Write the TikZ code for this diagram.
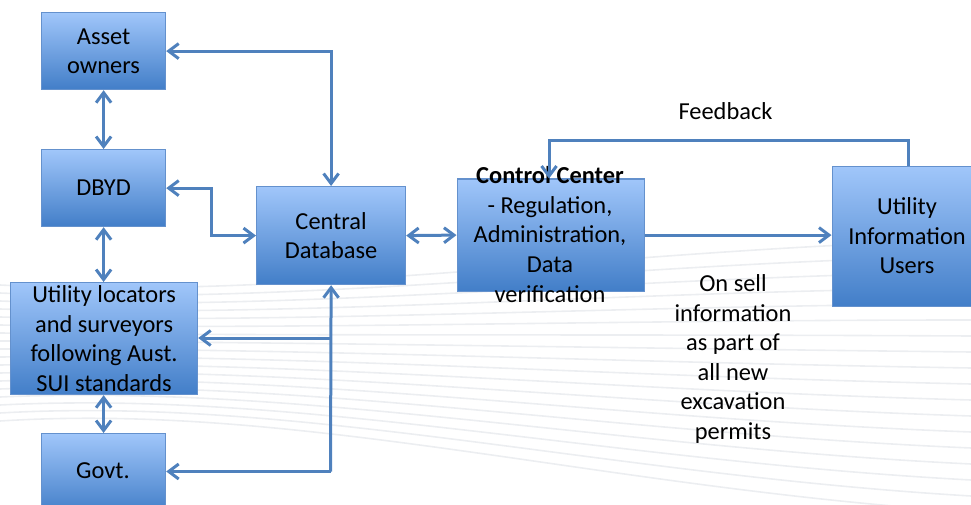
\documentclass[tikz,border=0pt]{standalone}
\usepackage{fontspec}
\setmainfont{Carlito}
\usetikzlibrary{arrows.meta}
\definecolor{boxtop}{RGB}{160,198,250}
\definecolor{boxbot}{RGB}{66,126,200}
\definecolor{boxline}{RGB}{100,145,205}
\definecolor{arr}{RGB}{79,129,189}
\definecolor{wave}{RGB}{236,238,241}
\begin{document}
\begin{tikzpicture}[x=1pt,y=-1pt,
  blk/.style={draw=boxline, line width=1.2pt, top color=boxtop, bottom color=boxbot,
    inner sep=0pt, anchor=north west},
  txt/.style={font=\fontsize{24.4}{29.6}\selectfont, align=center, inner sep=0pt, text=black},
  tipb/.tip={Straight Barb[length=10pt,width=15pt,line width=3pt]},
  bi/.style={draw=arr, line width=3pt, tipb-tipb},
  one/.style={draw=arr, line width=3pt, -tipb},
  plain/.style={draw=arr, line width=3pt}]
\useasboundingbox (0,0) rectangle (971,505);
% faint background waves
\foreach \k in {0,...,17}{
  \draw[wave, line width=1.6pt] (0,{285+8*\k}) .. controls (300,{300+6*\k}) and (600,{250+14*\k}) .. (971,{240+16*\k});
}
% boxes
\node[blk, minimum width=124pt, minimum height=77pt] (ao) at (41,12) {};
\node[txt] (aot) at (ao.center) {Asset\\owners};
\node[blk, minimum width=124pt, minimum height=77pt] (db) at (41,149) {};
\node[txt] (dbt) at (db.center) {DBYD};
\node[blk, minimum width=187pt, minimum height=112pt] (ul) at (10,282) {};
\node[txt] (ult) at (ul.center) {Utility locators\\and surveyors\\following Aust.\\SUI standards};
\node[blk, minimum width=124pt, minimum height=80pt] (gv) at (41,433) {};
\node[txt] (gvt) at (103,471) {Govt.};
\node[blk, minimum width=149pt, minimum height=98pt] (cdb) at (256,186) {};
\node[txt] (cdbt) at (cdb.center) {Central\\Database};
\node[blk, minimum width=187pt, minimum height=112pt] (cc) at (456.5,178.5) {};
\node[txt] (cct) at (550,234.5) {\textbf{Control Center}\\- Regulation,\\Administration,\\Data\\verification};
\node[blk, minimum width=152pt, minimum height=140pt] (uiu) at (831.5,166) {};
\node[txt] (uiut) at (907,236) {Utility\\Information\\Users};
% labels
\node[txt] (fb) at (725.5,111) {Feedback};
\node[txt] (os) at (733,359) {On sell\\information\\as part of\\all new\\excavation\\permits};
% connectors
\coordinate (fbtop) at (908.5,141);
\coordinate (hub1) at (330.5,338);
\coordinate (hub2) at (330.5,471.5);
\draw[bi] (ao.east) -| (cdb.north);
\draw[bi] (ao.south) -- (db.north);
\draw[bi] (db.south) -- (db.south |- ul.north);
\draw[bi] (gv.north |- ul.south) -- (gv.north);
\draw[bi] (db.east) -- ++(45,0) |- (cdb.west);
\draw[bi] (cdb.east) -- (cc.west);
\draw[one] (cc.east) -- (uiu.west |- cc.east);
\draw[one] (fbtop |- uiu.north) -- (fbtop) -| (cc.north -| 549,0);
\draw[one] (hub2) -- (cdb.south);
\draw[one] (hub1) -- (ul.east |- hub1);
\draw[one] (hub2) -- (gv.east |- hub2);
\end{tikzpicture}
\end{document}
